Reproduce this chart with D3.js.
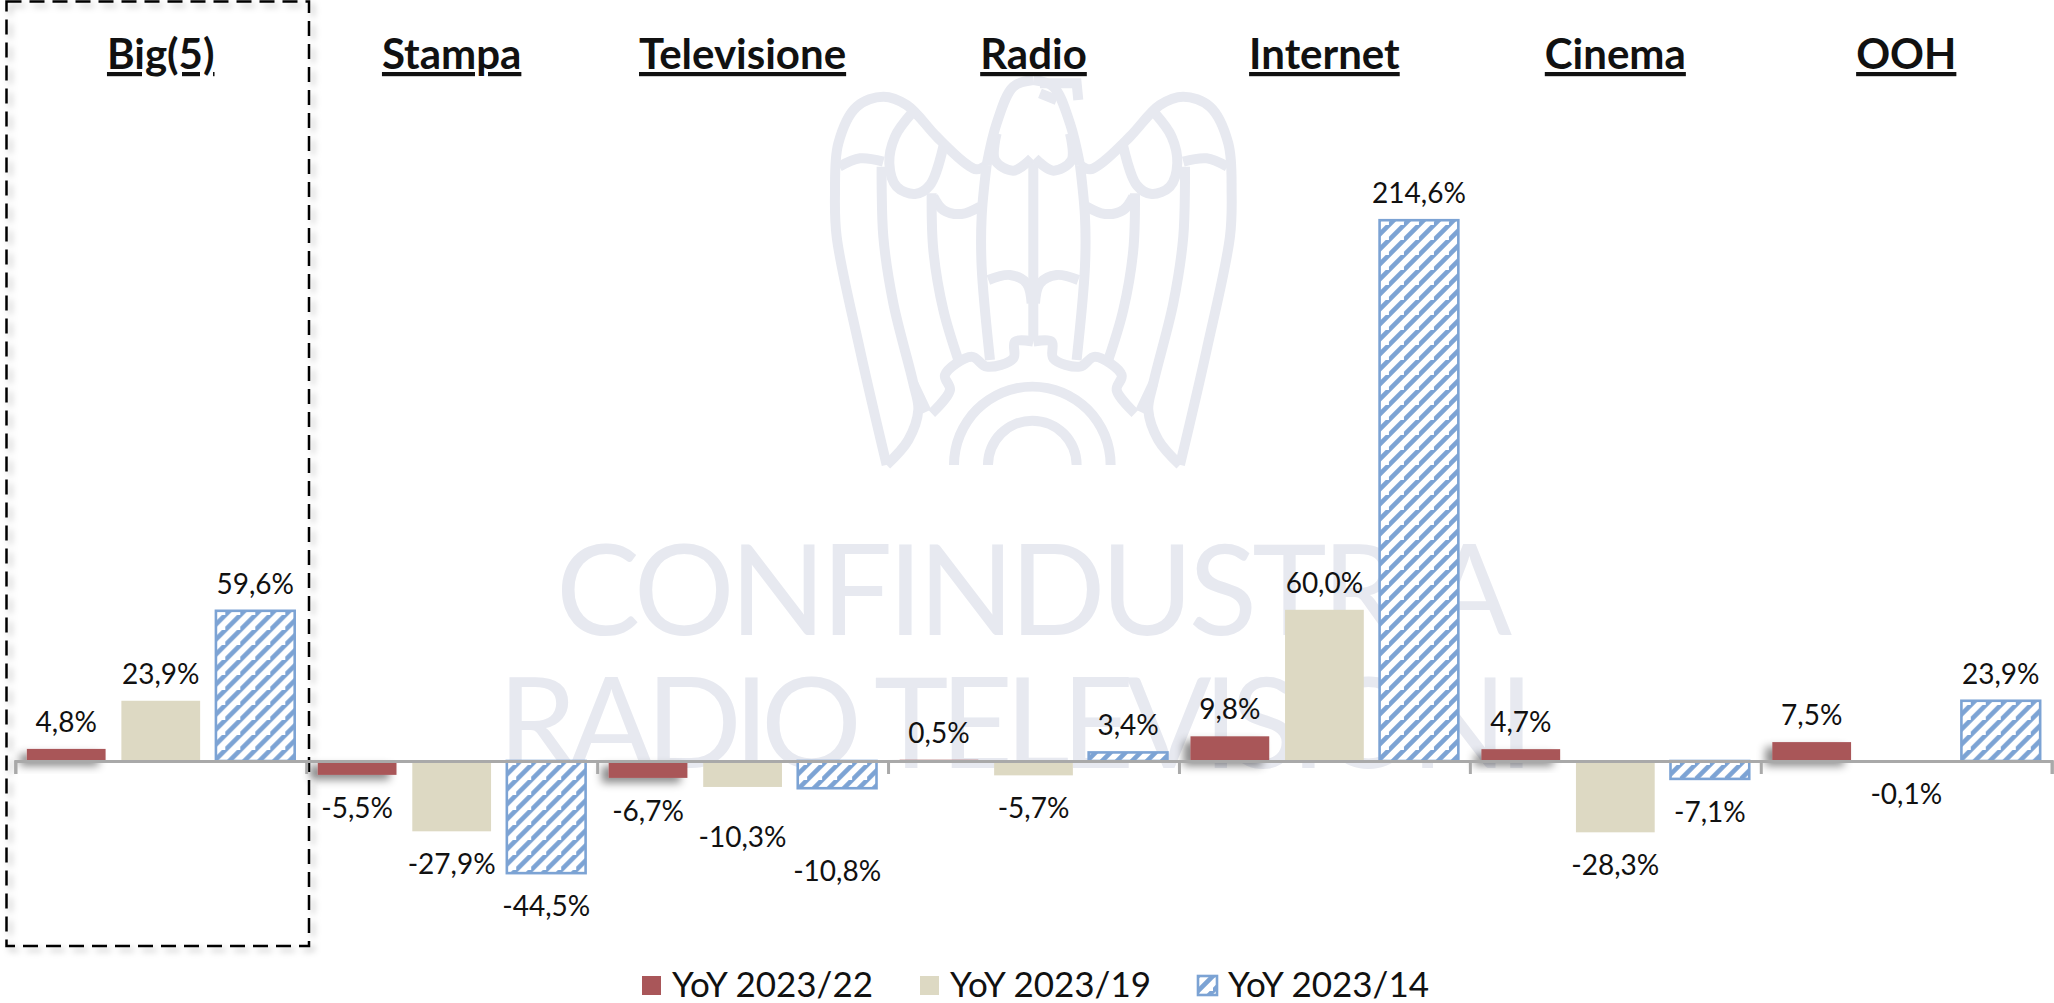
<!DOCTYPE html>
<html>
<head>
<meta charset="utf-8">
<script src="https://d3js.org/d3.v7.min.js"></script>
<style>
html, body { margin: 0; padding: 0; background: #fff; }
svg { display: block; }
text { font-family: "Lato", sans-serif; fill: #111; }
</style>
</head>
<body>
<div id="chart"></div>
<script>
var categories = ["Big(5)", "Stampa", "Televisione", "Radio", "Internet", "Cinema", "OOH"];
var seriesNames = ["YoY 2023/22", "YoY 2023/19", "YoY 2023/14"];
var yoy22 = [4.8, -5.5, -6.7, 0.5, 9.8, 4.7, 7.5];
var yoy19 = [23.9, -27.9, -10.3, -5.7, 60.0, -28.3, -0.1];
var yoy14 = [59.6, -44.5, -10.8, 3.4, 214.6, -7.1, 23.9];
var seriesValues = [yoy22, yoy19, yoy14];

// logo outline, left half only (mirrored below), in crop units
var eagleStrokes = [
    [[320,1245],[240,900],[170,560],[165,430],[175,280],[230,170],[310,140],[380,165],[470,260],[550,335],[590,358],[620,345]],
    [[320,1245],[385,1170],[415,1080],[400,1000],[340,760],[310,560],[305,350]],
    [[178,350],[240,325],[310,335]],
    [[395,190],[345,260],[328,340],[350,410],[405,432],[450,405],[490,290]],
    [[460,440],[490,480],[545,492],[600,470]],
    [[455,430],[460,600],[490,780],[535,930]],
    [[400,1000],[440,1085]],
    [[620,345],[605,500],[605,650],[630,930]],
    [[650,250],[645,330],[700,362],[755,325]],
    [[625,690],[690,675],[740,700],[755,760]],
    [[455,1090],[510,1020],[495,975],[575,920],[620,950],[700,925],[705,875],[760,875]],
    [[620,345],[650,220],[700,110],[760,90]]
];

var W = 2054, H = 1003;
var zeroY = 761, pxPerPct = 2.52;

var svg = d3.select("#chart").append("svg")
    .attr("width", W)
    .attr("height", H);

var defs = svg.append("defs");
var hatch = defs.append("pattern")
    .attr("id", "hatch")
    .attr("patternUnits", "userSpaceOnUse")
    .attr("width", 15)
    .attr("height", 15);
hatch.append("rect").attr("width", 15).attr("height", 15).attr("fill", "#fff");
hatch.append("path")
    .attr("d", "M-4,4 L4,-4 M-4,19 L19,-4")
    .attr("stroke", "#7ca3d4")
    .attr("stroke-width", 4.6);

var barShadow = defs.append("filter").attr("id", "barShadow")
    .attr("x", "-20%").attr("y", "-50%").attr("width", "140%").attr("height", "250%");
barShadow.append("feDropShadow")
    .attr("dx", -7).attr("dy", 5).attr("stdDeviation", 4)
    .attr("flood-color", "#000").attr("flood-opacity", 0.45);

var boxShadow = defs.append("filter").attr("id", "boxShadow")
    .attr("x", "-5%").attr("y", "-5%").attr("width", "110%").attr("height", "110%");
boxShadow.append("feDropShadow")
    .attr("dx", 4).attr("dy", 4).attr("stdDeviation", 3)
    .attr("flood-color", "#000").attr("flood-opacity", 0.25);

var x = d3.scaleBand().domain(categories).range([15.3, 2051.7]);
var x1 = d3.scaleBand().domain(seriesNames).range([0, x.bandwidth()])
    .paddingInner(0.167).paddingOuter(0.122);
var y = d3.scaleLinear()
    .domain([-44.5, 214.6])
    .range([zeroY + 44.5 * pxPerPct, zeroY - 214.6 * pxPerPct]);

// watermark goes first, bars sit on top of it
var wm = svg.append("g").attr("class", "watermark");
wm.selectAll("text").data([
    {t: "CONFINDUSTRIA", x: 556, y: 635, len: 956},
    {t: "RADIO TELEVISIONI", x: 498, y: 768, len: 1036}
]).enter().append("text")
    .attr("x", function(d) { return d.x; })
    .attr("y", function(d) { return d.y; })
    .attr("textLength", function(d) { return d.len; })
    .attr("lengthAdjust", "spacing")
    .style("font-size", "126px")
    .style("font-weight", 400)
    .style("fill", "#e7e9f0")
    .text(function(d) { return d.t; });

var line = d3.line().curve(d3.curveCatmullRom.alpha(0.5));
var logo = wm.append("g")
    .attr("transform", "translate(780,50) scale(0.3333)")
    .attr("fill", "none")
    .attr("stroke", "#e7e9f0")
    .attr("stroke-width", 30);
var halves = logo.selectAll("g").data([0, 1]).enter().append("g")
    .attr("transform", function(d) { return d ? "translate(1520,0) scale(-1,1)" : null; });
halves.selectAll("path").data(eagleStrokes).enter().append("path")
    .attr("d", function(d) { return line(d); });
logo.append("path").attr("d", "M760,340 V870");
logo.append("path").attr("d", "M780,100 L890,100 L895,150 M780,130 L830,150");
logo.append("path").attr("d", d3.arc()({innerRadius: 220, outerRadius: 250, startAngle: -Math.PI / 2, endAngle: Math.PI / 2}))
    .attr("transform", "translate(757,1245)")
    .attr("fill", "#e7e9f0").attr("stroke", "none");
logo.append("path").attr("d", d3.arc()({innerRadius: 118, outerRadius: 148, startAngle: -Math.PI / 2, endAngle: Math.PI / 2}))
    .attr("transform", "translate(757,1245)")
    .attr("fill", "#e7e9f0").attr("stroke", "none");

// dashed box round Big(5)
svg.append("rect")
    .attr("x", 6.5).attr("y", 1.5)
    .attr("width", 302.5).attr("height", 944.5)
    .attr("fill", "none")
    .attr("stroke", "#000")
    .attr("stroke-width", 2.5)
    .attr("stroke-dasharray", "15 8")
    .attr("filter", "url(#boxShadow)");

// bars
var groups = svg.selectAll("g.cat").data(categories).enter().append("g")
    .attr("class", "cat")
    .attr("transform", function(d) { return "translate(" + x(d) + ",0)"; });

var barStyles = [
    {fill: "#a95659", stroke: "none", sw: 0, filter: "url(#barShadow)"},
    {fill: "#ddd9c3", stroke: "none", sw: 0, filter: null},
    {fill: "url(#hatch)", stroke: "#7ca3d4", sw: 2.6, filter: null}
];

seriesNames.forEach(function(name, s) {
    groups.append("rect")
        .attr("x", x1(name))
        .attr("width", x1.bandwidth())
        .attr("y", function(d, i) { return y(Math.max(0, seriesValues[s][i])); })
        .attr("height", function(d, i) { return Math.abs(y(seriesValues[s][i]) - y(0)); })
        .attr("fill", barStyles[s].fill)
        .attr("stroke", barStyles[s].stroke)
        .attr("stroke-width", barStyles[s].sw)
        .attr("filter", barStyles[s].filter);
});

// axis with ticks on the band edges
var edges = d3.scaleLinear().domain([0, categories.length]).range(x.range());
var axis = svg.append("g")
    .attr("transform", "translate(0," + y(0) + ")")
    .call(d3.axisBottom(edges).ticks(categories.length).tickFormat("").tickSize(13));
axis.selectAll("path, line").attr("stroke", "#a9a9a9").attr("stroke-width", 3);

// value labels
function fmt(v) {
    return v.toFixed(1).replace(".", ",") + "%";
}
seriesNames.forEach(function(name, s) {
    groups.append("text")
        .attr("x", x1(name) + x1.bandwidth() / 2)
        .attr("y", function(d, i) {
            var v = seriesValues[s][i];
            // these two Televisione labels were pushed down in the original
            if (s == 2 && d == "Televisione") return y(v) + 93;
            if (s == 1 && d == "Televisione") return y(v) + 60;
            return v >= 0 ? y(v) - 17 : y(v) + 43;
        })
        .attr("text-anchor", "middle")
        .style("font-size", "28px")
        .text(function(d, i) { return fmt(seriesValues[s][i]); });
});

// category titles
svg.selectAll("text.title").data(categories).enter().append("text")
    .attr("class", "title")
    .attr("x", function(d) { return x(d) + x.bandwidth() / 2; })
    .attr("y", 69)
    .attr("text-anchor", "middle")
    .style("font-size", "42px")
    .style("font-weight", 700)
    .style("text-decoration", "underline")
    .text(function(d) { return d; });

// legend
var legendX = [642, 920, 1198];
var legend = svg.selectAll("g.leg").data(seriesNames).enter().append("g")
    .attr("class", "leg")
    .attr("transform", function(d, i) { return "translate(" + legendX[i] + ",976)"; });
legend.append("rect")
    .attr("width", 19).attr("height", 19)
    .attr("fill", function(d, i) { return barStyles[i].fill; })
    .attr("stroke", function(d, i) { return barStyles[i].stroke; })
    .attr("stroke-width", function(d, i) { return barStyles[i].sw; });
legend.append("text")
    .attr("x", 30).attr("y", 21)
    .style("font-size", "35px")
    .text(function(d) { return d; });
</script>
</body>
</html>
